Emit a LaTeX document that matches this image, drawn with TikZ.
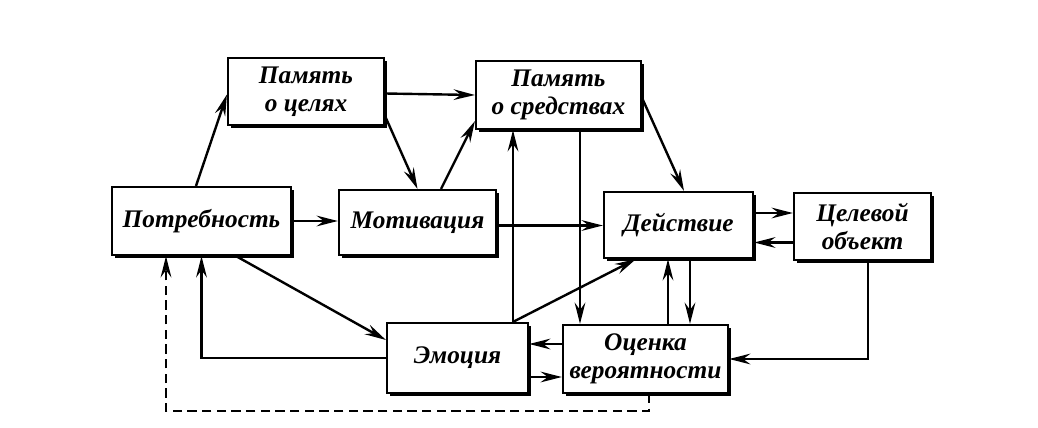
\documentclass[tikz,border=0pt]{standalone}
\usepackage{fontspec}
\setmainfont{Liberation Serif}
\usetikzlibrary{calc,arrows.meta,shadows}
\begin{document}
\begin{tikzpicture}[x=0.75pt,y=-0.75pt,
  box/.style={draw,line width=1.6pt,fill=white,inner sep=0pt,
    font=\fontsize{19}{21}\selectfont\bfseries\itshape,align=center,
    drop shadow={shadow xshift=2.4pt,shadow yshift=-2.4pt,opacity=1,fill=black}},
  arr/.style={line width=1.8pt,-{Stealth[length=16pt,width=8pt,inset=5.5pt]}},
  dsh/.style={line width=1.6pt,dash pattern=on 7pt off 4pt,-{Stealth[length=16pt,width=8pt,inset=5.5pt]}}]
\useasboundingbox (0,0) rectangle (1038,428);
\node[box,minimum width=156*0.75pt,minimum height=67*0.75pt] (pc) at (306,91.5) {Память\\о целях};
\node[box,minimum width=165*0.75pt,minimum height=68*0.75pt] (ps) at (558.5,95) {Память\\о средствах};
\node[box,minimum width=179*0.75pt,minimum height=68*0.75pt] (potr) at (201.5,221) {Потребность};
\node[box,minimum width=157*0.75pt,minimum height=65*0.75pt] (mot) at (417.5,222.5) {Мотивация};
\node[box,minimum width=149*0.75pt,minimum height=66*0.75pt] (dey) at (678.5,225) {Действие};
\node[box,minimum width=137*0.75pt,minimum height=67*0.75pt] (cel) at (862.5,226.5) {Целевой\\объект};
\node[box,minimum width=141*0.75pt,minimum height=70*0.75pt] (emo) at (457.5,358) {Эмоция};
\node[box,minimum width=165*0.75pt,minimum height=68*0.75pt] (ocen) at (645.5,359) {Оценка\\вероятности};
% connectors
\draw[arr] ($(potr.north)+(-5.5,0)$) -- ($(pc.west)+(0,3)$);
\draw[arr] ($(pc.east)+(0,2)$) -- ($(ps.west)+(0,0)$);
\draw[arr] ($(pc.south east)+(0,-10)$) -- (mot.north);
\draw[arr] ($(mot.north)+(23.5,0)$) -- ($(ps.south west)+(0,-9)$);
\draw[arr] (potr.east) -- (potr.east -| mot.west);
\coordinate (m6) at ($(mot.east)+(0,3)$);
\draw[arr] (m6) -- (m6 -| dey.west);
\draw[arr] ($(ps.east)+(0,3)$) -- ($(dey.north)+(5.5,0)$);
\coordinate (c8) at ($(dey.east)+(0,-12)$);
\draw[arr] (c8) -- (c8 -| cel.west);
\coordinate (c9) at ($(cel.west)+(0,16)$);
\draw[arr] (c9) -- (c9 -| dey.east);
\coordinate (c10) at ($(emo.north)+(55.5,0)$);
\draw[arr] (c10) -- (c10 |- ps.south);
\coordinate (c11) at ($(ps.south)+(21.5,0)$);
\draw[arr] (c11) -- (c11 |- ocen.north);
\draw[arr] (c10) -- ($(dey.south)+(-42.5,0)$);
\coordinate (c13) at ($(ocen.north)+(22.5,0)$);
\draw[arr] (c13) -- (c13 |- dey.south);
\coordinate (c14) at ($(dey.south)+(11.5,0)$);
\draw[arr] (c14) -- (c14 |- ocen.north);
\coordinate (c15) at ($(cel.south)+(5.5,0)$);
\draw[arr] (c15) |- (ocen.east);
\coordinate (c16) at ($(ocen.west)+(0,-15)$);
\draw[arr] (c16) -- (c16 -| emo.east);
\coordinate (c17) at ($(emo.east)+(0,19)$);
\draw[arr] (c17) -- (c17 -| ocen.west);
\draw[arr] (emo.west) -| (potr.south);
\draw[arr] ($(potr.south)+(34.5,0)$) -- ($(emo.west)+(0,-18)$);
\coordinate (d0) at ($(ocen.south)+(3.5,0)$);
\coordinate (d1) at ($(ocen.south)+(3.5,17)$);
\coordinate (d2) at ($(potr.south)+(-35.5,0)$);
\draw[dsh] (d0) -- (d1) -| (d2);
\end{tikzpicture}
\end{document}
